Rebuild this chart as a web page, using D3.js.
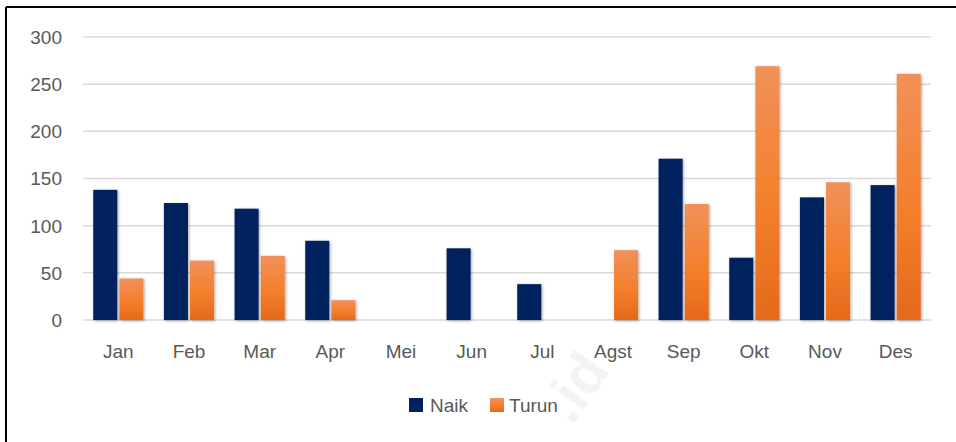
<!DOCTYPE html>
<html>
<head>
<meta charset="utf-8">
<script src="https://cdn.jsdelivr.net/npm/d3@7"></script>
<style>
  html, body { margin: 0; padding: 0; background: #fff; }
  svg text { font-family: "Liberation Sans", Arial, sans-serif; fill: #595959; }
</style>
</head>
<body>
<div id="chart"></div>
<script>
const months = ["Jan", "Feb", "Mar", "Apr", "Mei", "Jun", "Jul", "Agst", "Sep", "Okt", "Nov", "Des"]
const naik = [138, 124, 118, 84, 0, 76, 38, 0, 171, 66, 130, 143]
const turun = [44, 63, 68, 21, 0, 0, 0, 74, 123, 269, 146, 261]
const yTicks = [0, 50, 100, 150, 200, 250, 300]
const seriesNames = ["Naik", "Turun"]

;(function() {
    const width = 956, height = 442
    const margin = {top: 37, right: 25, bottom: 122, left: 83}

    const svg = d3.select("#chart")
      .append("svg")
        .attr("width", width)
        .attr("height", height)

    const defs = svg.append("defs")
    const grad = defs.append("linearGradient")
        .attr("id", "orangeGrad")
        .attr("x1", 0).attr("y1", 0).attr("x2", 0).attr("y2", 1)
    grad.append("stop").attr("offset", "0%").attr("stop-color", "#f0915a")
    grad.append("stop").attr("offset", "55%").attr("stop-color", "#f47f2c")
    grad.append("stop").attr("offset", "100%").attr("stop-color", "#e4691b")

    const shadow = defs.append("filter").attr("id", "shadow")
        .attr("x", "-30%").attr("y", "-10%").attr("width", "160%").attr("height", "120%")
    shadow.append("feDropShadow")
        .attr("dx", 1).attr("dy", 1).attr("stdDeviation", 1.6)
        .attr("flood-color", "#000").attr("flood-opacity", 0.35)

    // faint watermark (behind everything)
    svg.append("text")
      .attr("transform", "translate(572,426) rotate(-55)")
      .style("font-size", "58px")
      .style("font-weight", "bold")
      .style("fill", "#f3f3f3")
      .text(".id")

    // frame: top and left lines
    svg.append("line").attr("x1", 6).attr("x2", width).attr("y1", 7).attr("y2", 7)
        .attr("stroke", "#000").attr("stroke-width", 2)
    svg.append("line").attr("x1", 6).attr("x2", 6).attr("y1", 7).attr("y2", height)
        .attr("stroke", "#000").attr("stroke-width", 2)

    const x = d3.scaleBand()
      .domain(months)
      .range([margin.left, width - margin.right])
      .paddingInner(0.29)
      .paddingOuter(0.145)

    const xSub = d3.scaleBand()
      .domain(seriesNames)
      .range([0, x.bandwidth()])
      .paddingInner(0.08)

    const y = d3.scaleLinear()
      .domain([0, 300])
      .range([height - margin.bottom, margin.top])

    // gridlines
    svg.append("g")
      .selectAll("line")
      .data(yTicks)
      .join("line")
        .attr("x1", margin.left)
        .attr("x2", width - margin.right)
        .attr("y1", d => y(d))
        .attr("y2", d => y(d))
        .attr("stroke", "#d9d9d9")
        .attr("stroke-width", 1.5)

    // y axis
    const yAxis = svg.append("g")
      .attr("transform", "translate(" + (margin.left - 21) + ",0)")
      .call(d3.axisLeft(y).tickValues(yTicks).tickSize(0).tickPadding(0))
    yAxis.select(".domain").remove()
    yAxis.selectAll("text").style("font-size", "19px").attr("dy", "0.34em")

    // bars
    const data = months.map((m, i) => ({month: m, Naik: naik[i], Turun: turun[i]}))
    const groups = svg.append("g")
      .selectAll("g")
      .data(data)
      .join("g")
        .attr("transform", d => "translate(" + x(d.month) + ",0)")

    groups.selectAll("rect")
      .data(d => seriesNames.map(k => ({key: k, value: d[k]})).filter(v => v.value > 0))
      .join("rect")
        .attr("x", d => xSub(d.key))
        .attr("y", d => y(d.value))
        .attr("width", xSub.bandwidth())
        .attr("height", d => y(0) - y(d.value))
        .attr("fill", d => d.key === "Naik" ? "#00205f" : "url(#orangeGrad)")
        .attr("filter", "url(#shadow)")

    // x axis
    const xAxis = svg.append("g")
      .attr("transform", "translate(0," + (y(0) + 24) + ")")
      .call(d3.axisBottom(x).tickSize(0).tickPadding(0))
    xAxis.select(".domain").remove()
    xAxis.selectAll("text").style("font-size", "19px").attr("dy", "0.71em")

    // legend
    const legend = svg.append("g")
    const legendItems = [
        {name: "Naik", fill: "#00205f", sx: 409, tx: 430},
        {name: "Turun", fill: "url(#orangeGrad)", sx: 490, tx: 509}
    ]
    legendItems.forEach(item => {
        legend.append("rect")
          .attr("x", item.sx).attr("y", 398)
          .attr("width", 14).attr("height", 14)
          .attr("fill", item.fill)
        legend.append("text")
          .attr("x", item.tx).attr("y", 412)
          .style("font-size", "19px")
          .text(item.name)
    })
})()
</script>
</body>
</html>
